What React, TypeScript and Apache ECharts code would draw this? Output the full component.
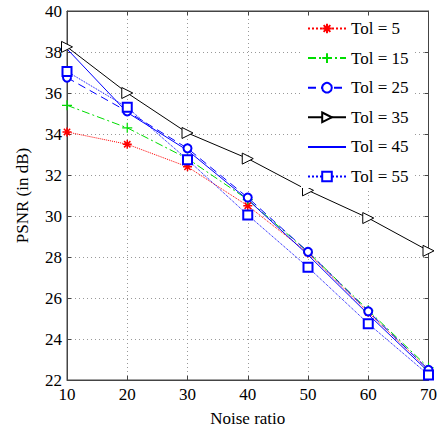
import React, { useEffect, useRef } from "react";
import * as echarts from "echarts";

const noiseRatio = [10, 20, 30, 40, 50, 60, 70];
const tol5 = [34.1, 33.5, 32.4, 30.5, 28.2, 25.3, 22.5];
const tol15 = [35.4, 34.3, 32.8, 30.8, 28.25, 25.4, 22.6];
const tol25 = [36.75, 35.1, 33.3, 30.9, 28.25, 25.35, 22.5];
const tol35 = [38.25, 36.0, 34.05, 32.8, 31.25, 29.9, 28.3];
const tol45 = [38.15, 35.05, 33.2, 30.8, 28.1, 25.2, 22.4];
const tol55 = [37.05, 35.3, 32.75, 30.05, 27.5, 24.75, 22.25];
const seriesNames = ["Tol = 5", "Tol = 15", "Tol = 25", "Tol = 35", "Tol = 45", "Tol = 55"];

const FONT = "Times New Roman";
const STAR = "path://M5,0 L5,10 M0,5 L10,5 M1.5,1.5 L8.5,8.5 M8.5,1.5 L1.5,8.5";
const PLUS = "path://M5,0 L5,10 M0,5 L10,5";
const TRI = "path://M0,0 L10,5 L0,10 Z";

export default function App() {
  const ref = useRef<HTMLDivElement>(null);
  useEffect(() => {
    const chart = echarts.init(ref.current!, null, { renderer: "svg" });
    const pair = (ys: number[]) => noiseRatio.map((x, i) => [x, ys[i]]);
    const mk = (
      name: string,
      ys: number[],
      color: string,
      type: any,
      symbol: string,
      symbolSize: number,
      fill: string,
      border: number
    ) => ({
      name,
      type: "line",
      data: pair(ys),
      symbol,
      symbolSize,
      showSymbol: symbol !== "none",
      lineStyle: { color, width: 1, type },
      itemStyle: { color: fill, borderColor: color, borderWidth: border },
      emphasis: { disabled: true },
    });
    const axisCommon = {
      axisLine: { show: true, lineStyle: { color: "#444", width: 1 } },
      axisTick: { show: true, inside: true, length: 4, lineStyle: { color: "#444" } },
    };
    const txt = { fontFamily: FONT, fontSize: 17, color: "#000" };
    chart.setOption({
      animation: false,
      backgroundColor: "#fff",
      textStyle: { fontFamily: FONT },
      grid: {
        left: 67,
        top: 11,
        right: 1,
        bottom: 54,
        show: true,
        borderColor: "#444",
        borderWidth: 1,
        backgroundColor: "#fff",
      },
      legend: {
        orient: "vertical",
        left: 301,
        top: 17,
        padding: [3, 6, 3, 6],
        itemWidth: 38,
        itemHeight: 12,
        itemGap: 12.6,
        backgroundColor: "#fff",
        data: seriesNames.map((n, i) =>
          i === 4 ? { name: n, itemStyle: { opacity: 0 } } : { name: n }
        ),
        textStyle: txt,
      },
      xAxis: [
        {
          type: "value",
          min: 10,
          max: 70,
          interval: 10,
          name: "Noise ratio",
          nameLocation: "middle",
          nameGap: 30,
          nameTextStyle: txt,
          ...axisCommon,
          axisLabel: { ...txt, margin: 6 },
          splitLine: { show: true, lineStyle: { color: "#999", type: [1, 3], width: 1 } },
        },
        {
          type: "value",
          position: "top",
          min: 10,
          max: 70,
          interval: 10,
          ...axisCommon,
          axisLabel: { show: false },
          splitLine: { show: false },
        },
      ],
      yAxis: [
        {
          type: "value",
          min: 22,
          max: 40,
          interval: 2,
          name: "PSNR (in dB)",
          nameLocation: "middle",
          nameGap: 36,
          nameTextStyle: txt,
          ...axisCommon,
          axisLabel: { ...txt, margin: 5 },
          splitLine: { show: true, lineStyle: { color: "#999", type: [1, 3], width: 1 } },
        },
        {
          type: "value",
          position: "right",
          min: 22,
          max: 40,
          interval: 2,
          ...axisCommon,
          axisLabel: { show: false },
          splitLine: { show: false },
        },
      ],
      series: [
        mk(seriesNames[0], tol5, "#ff0000", "dotted", STAR, 9, "none", 1.5),
        mk(seriesNames[1], tol15, "#00dd00", [8, 3, 2, 3], PLUS, 10, "none", 1.2),
        mk(seriesNames[2], tol25, "#0000ff", [8, 5], "emptyCircle", 8, "#0000ff", 1),
        mk(seriesNames[3], tol35, "#000000", "solid", TRI, 11, "#fff", 1),
        mk(seriesNames[4], tol45, "#0000ff", "solid", "none", 1, "#0000ff", 1),
        mk(seriesNames[5], tol55, "#0000ff", "dotted", "emptyRect", 9, "#0000ff", 1),
      ],
    });
    return () => chart.dispose();
  }, []);
  return (
    <div
      ref={ref}
      style={{ position: "fixed", left: 0, top: 0, width: 440, height: 434 }}
    />
  );
}
